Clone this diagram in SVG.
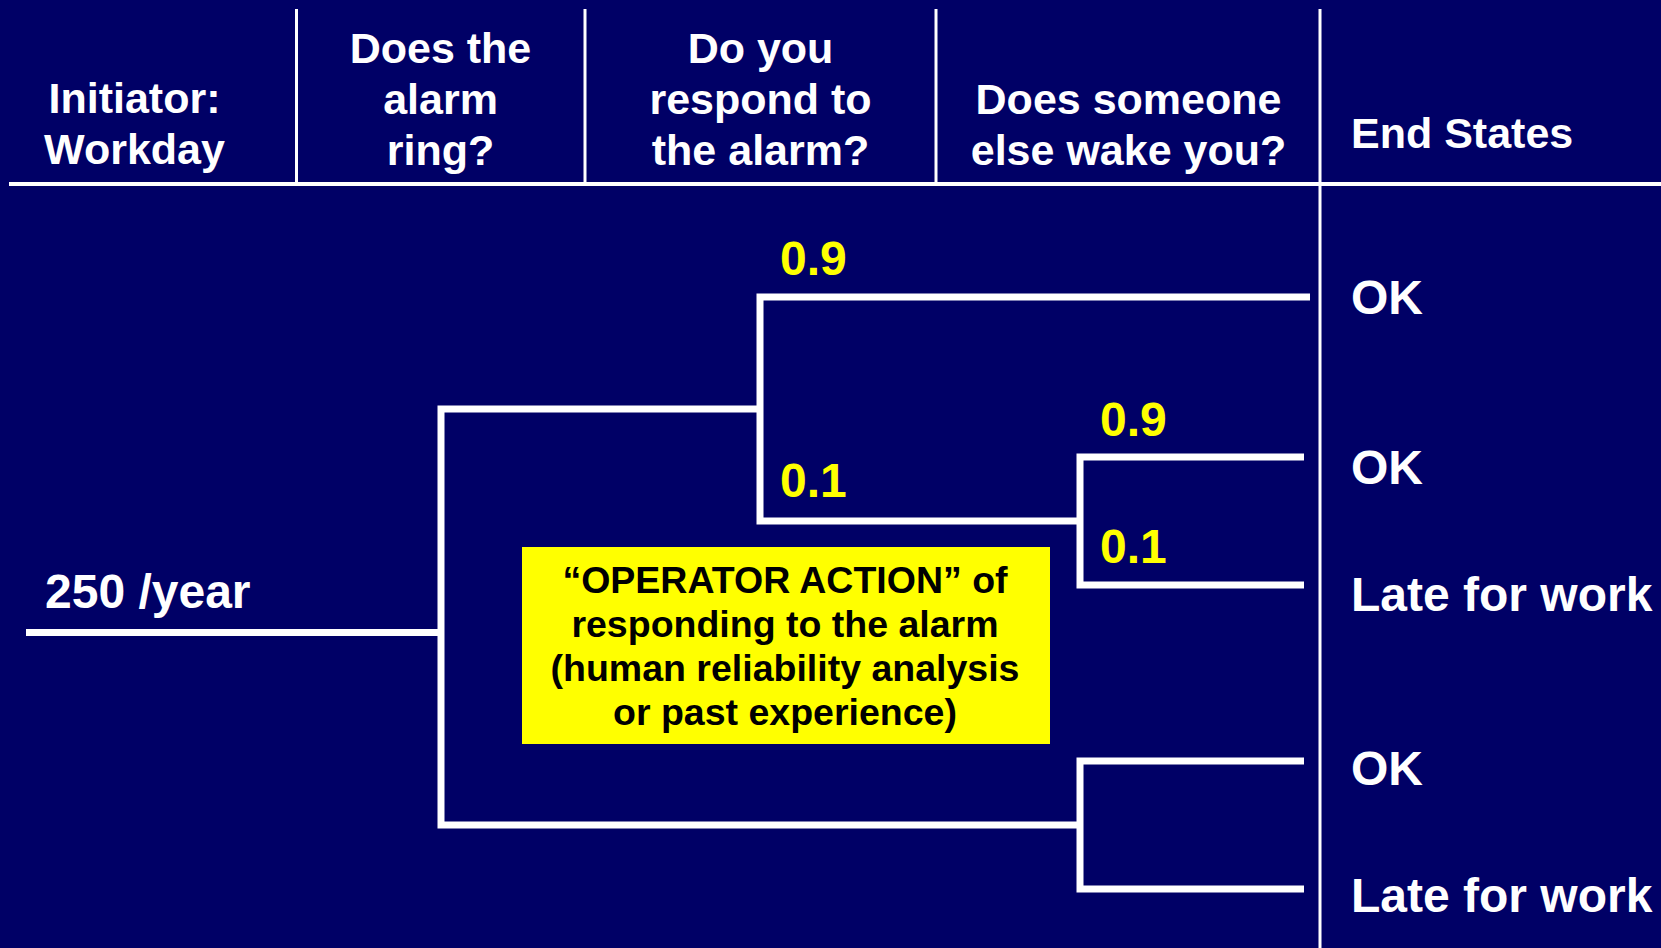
<svg xmlns="http://www.w3.org/2000/svg" width="1661" height="948" viewBox="0 0 1661 948">
<style>
.hdr{font-family:"Liberation Sans",Arial,sans-serif;font-weight:bold;font-size:43px;fill:#fff}
.end{font-family:"Liberation Sans",Arial,sans-serif;font-weight:bold;font-size:48px;fill:#fff}
.prob{font-family:"Liberation Sans",Arial,sans-serif;font-weight:bold;font-size:48px;fill:#ffff00}
.box{font-family:"Liberation Sans",Arial,sans-serif;font-weight:bold;font-size:37.5px;fill:#000}
.grid{stroke:#fff;stroke-width:3;fill:none}
.tree{stroke:#fff;stroke-width:7;fill:none;stroke-linejoin:miter;stroke-linecap:butt}
</style>
<rect x="0" y="0" width="1661" height="948" fill="#000066"/>
<g id="grid">
<line class="grid" x1="9" y1="184" x2="1661" y2="184" style="stroke-width:4"/>
<line class="grid" x1="296.5" y1="9" x2="296.5" y2="184"/>
<line class="grid" x1="585" y1="9" x2="585" y2="184"/>
<line class="grid" x1="936" y1="9" x2="936" y2="184"/>
<line class="grid" x1="1320" y1="9" x2="1320" y2="948"/>
</g>
<g id="headers">
<text class="hdr" text-anchor="middle" x="134.5" y="113">Initiator:</text>
<text class="hdr" text-anchor="middle" x="134.5" y="164">Workday</text>
<text class="hdr" text-anchor="middle" x="440.5" y="63">Does the</text>
<text class="hdr" text-anchor="middle" x="440.5" y="114">alarm</text>
<text class="hdr" text-anchor="middle" x="440.5" y="165">ring?</text>
<text class="hdr" text-anchor="middle" x="760.5" y="63">Do you</text>
<text class="hdr" text-anchor="middle" x="760.5" y="114">respond to</text>
<text class="hdr" text-anchor="middle" x="760.5" y="165">the alarm?</text>
<text class="hdr" text-anchor="middle" x="1128.5" y="114">Does someone</text>
<text class="hdr" text-anchor="middle" x="1128.5" y="165">else wake you?</text>
<text class="hdr" x="1351" y="148">End States</text>
</g>
<g id="connectors">
<path class="tree" d="M26 632.5 H441"/>
<path class="tree" d="M760 409 H441 V825 H1080"/>
<path class="tree" d="M1310 297 H760 V521 H1080"/>
<path class="tree" d="M1304 457 H1080 V585 H1304"/>
<path class="tree" d="M1304 761 H1080 V889 H1304"/>
</g>
<g id="initiator">
<text class="end" x="45" y="608">250 /year</text>
</g>
<g id="probabilities">
<text class="prob" x="780" y="275">0.9</text>
<text class="prob" x="780" y="497">0.1</text>
<text class="prob" x="1100" y="436">0.9</text>
<text class="prob" x="1100" y="563">0.1</text>
</g>
<g id="note">
<rect x="522" y="547" width="528" height="197" fill="#ffff00"/>
<text class="box" text-anchor="middle" x="785" y="593">“OPERATOR ACTION” of</text>
<text class="box" text-anchor="middle" x="785" y="637">responding to the alarm</text>
<text class="box" text-anchor="middle" x="785" y="681">(human reliability analysis</text>
<text class="box" text-anchor="middle" x="785" y="725">or past experience)</text>
</g>
<g id="end-states">
<text class="end" x="1351" y="314">OK</text>
<text class="end" x="1351" y="484">OK</text>
<text class="end" x="1351" y="611">Late for work</text>
<text class="end" x="1351" y="785">OK</text>
<text class="end" x="1351" y="912">Late for work</text>
</g>
</svg>
